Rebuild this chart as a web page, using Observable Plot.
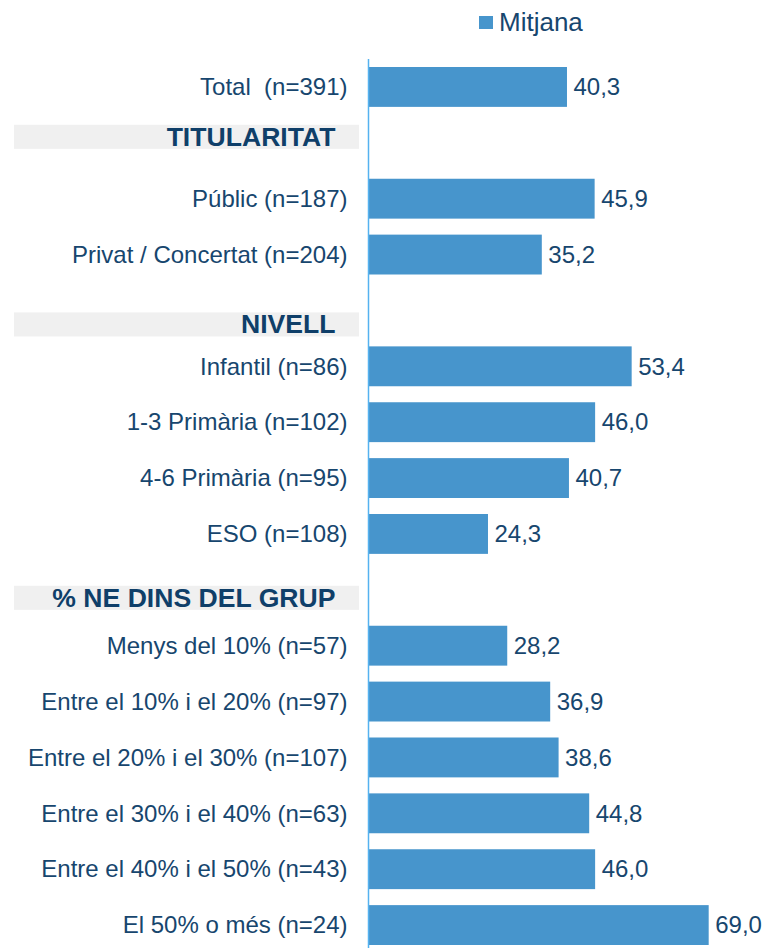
<!DOCTYPE html>
<html><head><meta charset="utf-8">
<script src="https://cdn.jsdelivr.net/npm/d3@7"></script>
<script src="https://cdn.jsdelivr.net/npm/@observablehq/plot@0.6"></script>
<style>
body{margin:0;background:#fff;font-family:"Liberation Sans",Arial,sans-serif;}
#wrap{position:relative;width:766px;height:948px;overflow:hidden;}
#legend{position:absolute;left:479px;top:6px;height:32px;display:flex;align-items:center;font-size:26px;color:#17466e;white-space:nowrap;}
#legend .sw{display:inline-block;width:14px;height:13px;background:#4795cc;margin-right:6px;}
#chart{position:absolute;left:0;top:45px;}
</style></head><body>
<div id="wrap"><div id="legend"></div><div id="chart"></div></div>
<script>
const seriesName = "Mitjana";
const categories = [
  "Total  (n=391)",
  "Públic (n=187)",
  "Privat / Concertat (n=204)",
  "Infantil (n=86)",
  "1-3 Primària (n=102)",
  "4-6 Primària (n=95)",
  "ESO (n=108)",
  "Menys del 10% (n=57)",
  "Entre el 10% i el 20% (n=97)",
  "Entre el 20% i el 30% (n=107)",
  "Entre el 30% i el 40% (n=63)",
  "Entre el 40% i el 50% (n=43)",
  "El 50% o més (n=24)"
];
const values = [40.3, 45.9, 35.2, 53.4, 46.0, 40.7, 24.3, 28.2, 36.9, 38.6, 44.8, 46.0, 69.0];
const groups = ["", "TITULARITAT", "TITULARITAT", "NIVELL", "NIVELL", "NIVELL", "NIVELL",
  "% NE DINS DEL GRUP", "% NE DINS DEL GRUP", "% NE DINS DEL GRUP", "% NE DINS DEL GRUP", "% NE DINS DEL GRUP", "% NE DINS DEL GRUP"];
const sections = ["TITULARITAT", "NIVELL", "% NE DINS DEL GRUP"];

// layout tweaks (not data)
const headerShift = [-6, 14, 8];
const barColor = "#4795cc";
const textColor = "#17466e";
const headColor = "#0f3f69";

const rows = categories.map((c, i) => ({label: c, value: values[i], group: groups[i]}));
const order = [];
let last = "";
rows.forEach(r => {
  if (r.group && r.group !== last) { order.push(r.group); last = r.group; }
  order.push(r.label);
});
const isHeader = new Set(sections);

const plot = Plot.plot({
  width: 766, height: 903,
  marginLeft: 368, marginRight: 3, marginTop: 14, marginBottom: 0,
  style: {color: textColor, fontFamily: '"Liberation Sans", Arial, sans-serif', background: "transparent"},
  x: {domain: [0, 80], axis: null},
  y: {domain: order, range: [14, 908], padding: 0, round: false, axis: null, label: null},
  marks: [
    Plot.barX(rows, {x: "value", y: "label", fill: barColor, insetTop: 8, insetBottom: 8}),
    Plot.ruleX([0], {stroke: "#55b2f0", strokeWidth: 1.5}),
    Plot.axisY({tickSize: 0, tickPadding: 21, fontSize: 24, label: null, tickFormat: d => isHeader.has(d) ? "" : d}),
    Plot.text(rows, {x: "value", y: "label", text: d => d.value.toFixed(1).replace(".", ","),
      textAnchor: "start", dx: 6, fontSize: 24, fill: textColor}),
    ...sections.map((s, i) => Plot.text([s], {y: d => d, text: d => d, frameAnchor: "left", dx: -33, dy: headerShift[i],
      textAnchor: "end", fontWeight: "bold", fontSize: 26.6, fill: headColor}))
  ]
});

// gray header bands placed with the plot's own y scale
const ys = plot.scale("y");
const bw = ys.bandwidth;
const g = d3.select(plot).insert("g", ":first-child");
sections.forEach((s, i) => {
  const cy = ys.apply(s) + bw / 2 + headerShift[i];
  g.append("rect").attr("x", 14).attr("width", 345).attr("y", cy - 12).attr("height", 24).attr("fill", "#f0f0f0");
});

document.getElementById("chart").appendChild(plot);
document.getElementById("legend").innerHTML = `<span class="sw"></span><span>${seriesName}</span>`;
</script>
</body></html>
